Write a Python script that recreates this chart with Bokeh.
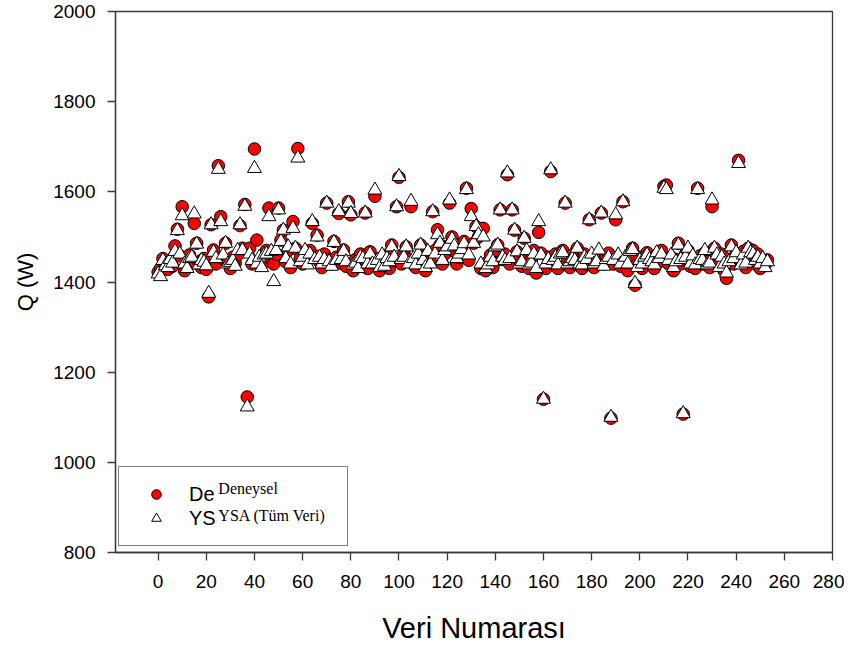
from bokeh.plotting import figure
from bokeh.models import (Range1d, FixedTicker, Legend, LegendItem,
                          ColumnDataSource)
from bokeh.core.properties import value
from bokeh.embed import file_html
from bokeh.resources import INLINE

# ---------------- data ----------------
deneysel = [
    1422, 1430, 1452, 1440, 1428, 1445, 1435, 1480, 1517, 1458,
    1567, 1425, 1438, 1460, 1442, 1530, 1486, 1445, 1432, 1452,
    1428, 1367, 1527, 1471, 1440, 1658, 1545, 1452, 1486, 1445,
    1430, 1455, 1442, 1460, 1525, 1475, 1572, 1145, 1475, 1440,
    1695, 1493, 1448, 1438, 1455, 1470, 1564, 1450, 1440, 1462,
    1564, 1493, 1515, 1445, 1470, 1432, 1534, 1475, 1696, 1452,
    1440, 1465, 1448, 1470, 1530, 1458, 1504, 1445, 1432, 1462,
    1575, 1450, 1440, 1490, 1455, 1552, 1442, 1471, 1435, 1578,
    1549, 1425, 1450, 1438, 1462, 1445, 1553, 1430, 1467, 1445,
    1590, 1440, 1425, 1455, 1440, 1460, 1430, 1482, 1448, 1567,
    1632, 1440, 1462, 1478, 1450, 1567, 1445, 1432, 1455, 1482,
    1440, 1425, 1460, 1445, 1556, 1470, 1516, 1482, 1440, 1462,
    1478, 1575, 1500, 1468, 1440, 1455, 1478, 1490, 1608, 1448,
    1563, 1486, 1523, 1500, 1430, 1519, 1425, 1445, 1460, 1432,
    1470, 1482, 1560, 1450, 1462, 1638, 1440, 1560, 1515, 1467,
    1450, 1435, 1497, 1462, 1430, 1450, 1470, 1420, 1510, 1464,
    1140, 1430, 1455, 1645, 1440, 1462, 1430, 1450, 1470, 1575,
    1445, 1432, 1460, 1440, 1475, 1448, 1430, 1462, 1440, 1538,
    1455, 1432, 1448, 1462, 1553, 1440, 1458, 1464, 1098, 1440,
    1538, 1452, 1435, 1578, 1448, 1425, 1460, 1475, 1393, 1440,
    1455, 1430, 1448, 1465, 1440, 1452, 1430, 1460, 1445, 1470,
    1612, 1615, 1440, 1455, 1425, 1450, 1486, 1440, 1107, 1462,
    1470, 1435, 1450, 1430, 1608, 1458, 1440, 1465, 1445, 1432,
    1567, 1475, 1450, 1440, 1462, 1425, 1408, 1450, 1482, 1440,
    1460, 1670, 1445, 1468, 1432, 1475, 1455, 1470, 1440, 1462,
    1430, 1448, 1438, 1449,
]
ysa = [
    1418, 1412, 1448, 1436, 1432, 1450, 1442, 1468, 1514, 1462,
    1547, 1440, 1430, 1452, 1455, 1551, 1484, 1438, 1448, 1444,
    1436, 1375, 1527, 1466, 1452, 1650, 1534, 1460, 1486, 1440,
    1443, 1448, 1435, 1470, 1527, 1470, 1568, 1123, 1462, 1448,
    1652, 1440, 1455, 1432, 1460, 1462, 1545, 1468, 1401, 1470,
    1560, 1490, 1515, 1452, 1478, 1440, 1519, 1475, 1675, 1445,
    1455, 1470, 1438, 1462, 1534, 1450, 1500, 1455, 1440, 1450,
    1575, 1445, 1435, 1488, 1448, 1556, 1450, 1468, 1445, 1575,
    1552, 1438, 1442, 1430, 1455, 1452, 1553, 1440, 1462, 1440,
    1604, 1448, 1432, 1460, 1435, 1452, 1445, 1478, 1455, 1567,
    1634, 1450, 1455, 1478, 1440, 1579, 1452, 1438, 1462, 1482,
    1448, 1432, 1468, 1440, 1556, 1462, 1505, 1486, 1448, 1470,
    1478, 1582, 1495, 1480, 1452, 1462, 1472, 1485, 1605, 1460,
    1545, 1486, 1523, 1505, 1440, 1500, 1430, 1438, 1455, 1445,
    1478, 1482, 1560, 1455, 1448, 1642, 1452, 1560, 1515, 1467,
    1440, 1445, 1497, 1470, 1438, 1442, 1462, 1430, 1534, 1460,
    1140, 1440, 1450, 1649, 1448, 1455, 1438, 1462, 1465, 1575,
    1440, 1445, 1452, 1448, 1475, 1440, 1438, 1455, 1450, 1538,
    1462, 1440, 1445, 1471, 1553, 1435, 1450, 1455, 1100, 1448,
    1549, 1460, 1440, 1578, 1455, 1440, 1468, 1472, 1397, 1432,
    1448, 1440, 1455, 1460, 1450, 1445, 1438, 1465, 1452, 1462,
    1608, 1605, 1448, 1460, 1432, 1445, 1482, 1450, 1108, 1455,
    1475, 1440, 1458, 1438, 1605, 1450, 1448, 1470, 1438, 1442,
    1582, 1475, 1460, 1432, 1455, 1440, 1420, 1445, 1478, 1452,
    1465, 1663, 1438, 1460, 1442, 1475, 1465, 1462, 1448, 1455,
    1440, 1452, 1432, 1445,
]
veri_no = list(range(len(deneysel)))

x_ticks = list(range(0, 281, 20))
y_ticks = list(range(800, 2001, 200))

# legend texts as they appear: a clipped sans label overlaid by a serif one
legend_short = ["De", "YS"]
legend_full = ["Deneysel", "YSA (Tüm Veri)"]

FONT = "Liberation Sans"
AXC = "#3a3a3a"

p = figure(width=844, height=646, output_backend="svg", toolbar_location=None,
           x_range=Range1d(-17.7, 280), y_range=Range1d(800, 2000),
           min_border_left=115, min_border_right=12, min_border_top=11,
           min_border_bottom=94)
p.xgrid.visible = False
p.ygrid.visible = False
p.outline_line_color = AXC
p.outline_line_width = 1.3
p.background_fill_color = "white"
p.border_fill_color = "white"

src = ColumnDataSource(dict(x=veri_no, d=deneysel, y=ysa))
r1 = p.scatter("x", "d", source=src, marker="circle", size=12.5,
               fill_color="#ff0000", line_color="black", line_width=1)
r2 = p.scatter("x", "y", source=src, marker="triangle", size=14,
               fill_color="white", line_color="black", line_width=1)

for ax in (p.xaxis[0], p.yaxis[0]):
    ax.axis_line_color = AXC
    ax.axis_line_width = 1.3
    ax.major_tick_line_color = AXC
    ax.major_tick_line_width = 1.3
    ax.major_tick_in = 0
    ax.major_tick_out = 8
    ax.minor_tick_line_color = None
    ax.major_label_text_font = FONT
    ax.major_label_text_font_size = "19px"
    ax.major_label_text_color = "black"
    ax.axis_label_text_font = FONT
    ax.axis_label_text_font_style = "normal"
    ax.axis_label_text_color = "black"

p.xaxis.ticker = FixedTicker(ticks=x_ticks)
p.yaxis.ticker = FixedTicker(ticks=y_ticks)
p.xaxis.major_label_standoff = 14
p.yaxis.major_label_standoff = 12
p.xaxis.axis_label = "Veri Numarası"
p.yaxis.axis_label = "Q (W)"
p.xaxis.axis_label_text_font_size = "29px"
p.yaxis.axis_label_text_font_size = "22px"
p.xaxis.axis_label_standoff = 21
p.yaxis.axis_label_standoff = 12

legend = Legend(items=[LegendItem(label=legend_short[0], renderers=[r1]),
                       LegendItem(label=legend_short[1], renderers=[r2])],
                location=(3, 6), orientation="vertical",
                border_line_color="black", border_line_width=1.3,
                background_fill_alpha=0,
                padding=15, spacing=0, margin=0,
                glyph_width=44, glyph_height=24, label_height=24,
                label_width=143, label_standoff=11,
                label_text_font=FONT, label_text_font_size="20px",
                label_text_color="black")
p.add_layout(legend, "center")

# serif texts sitting in the legend box (placed in data space of the frame)
p.text(x=[25.0, 25.0], y=[942.0, 881.0], text=legend_full,
       text_font=value("Liberation Serif"), text_font_size="16px",
       text_color="black", text_baseline="alphabetic", text_align="left")

open("out.html", "w").write(file_html(p, INLINE))
